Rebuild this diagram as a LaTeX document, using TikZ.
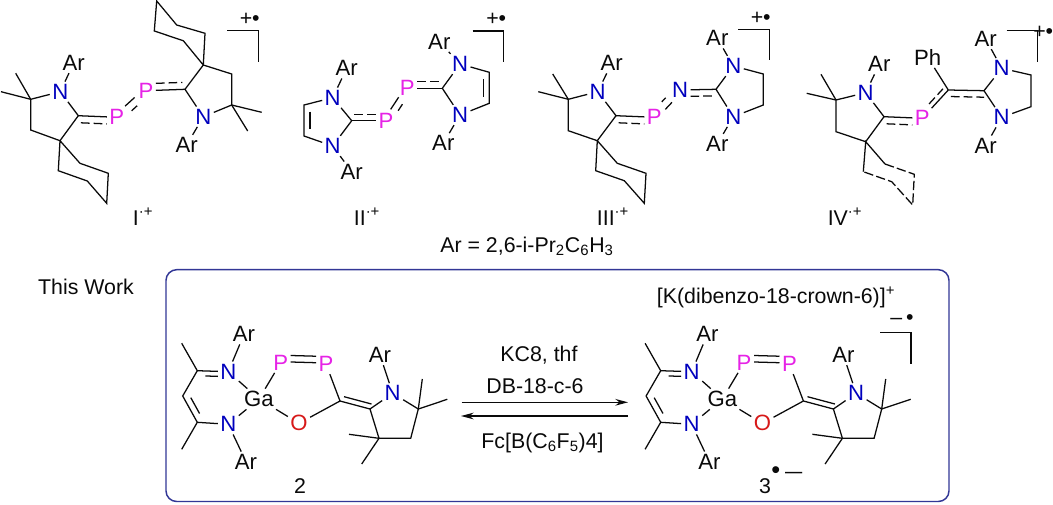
\documentclass[tikz,border=0pt]{standalone}
\usepackage{fontspec}
\usepackage{graphicx}
\setmainfont{Liberation Sans}
\definecolor{ncol}{RGB}{0,0,190}
\definecolor{pcol}{RGB}{230,35,230}
\definecolor{ocol}{RGB}{215,25,25}
\definecolor{boxcol}{RGB}{50,55,150}
\definecolor{txt}{RGB}{10,10,10}
\tikzset{
  base font/.style={font=\fontsize{16}{18}\selectfont,text=txt},
  atom/.style={font=\fontsize{16.6}{18}\selectfont,inner sep=1.9pt,outer sep=0pt},
  lbl/.style={base font,inner sep=0pt,anchor=base},
  chg/.style={base font,inner sep=0pt,anchor=base west},
  bond/.style={draw=txt,line width=0.95pt,line join=miter},
  dbond/.style={bond,dash pattern=on 6.5pt off 3pt},
  dring/.style={bond,dash pattern=on 7pt off 2.4pt},
  arrowline/.style={draw=txt,line width=0.95pt,-{Stealth[length=9.5pt,width=5pt]}},
}
\usetikzlibrary{arrows.meta}
\newcommand\At[4]{\node[atom,text=#4] (#1) at (#2) {#3};}
\newcommand\Cc[2]{\coordinate (#1) at (#2);}
\newcommand\Bd[1]{\draw[bond] #1;}
% second, parallel line of a multiple bond: {style}{dx,dy}{shorten start}{shorten end}{path}
\newcommand\Par[5]{\draw[#1,shorten <=#3,shorten >=#4,transform canvas={shift={(#2)}}] #5;}
\newcommand\GaComp[1]{%
  \Cc{#1m1}{181.7,343.3}\Cc{#1c1}{197.3,370.7}\Cc{#1ch}{182.7,396}\Cc{#1c2}{197.3,422.3}\Cc{#1m2}{181.7,449.3}
  \At{#1n1}{228.3,371.7}{N}{ncol}\At{#1n2}{228.3,424.3}{N}{ncol}
  \At{#1a1}{244,334.3}{Ar}{txt}\At{#1a2}{246,461.7}{Ar}{txt}
  \At{#1ga}{259,399}{Ga}{txt}\At{#1o}{299,423.3}{O}{ocol}
  \At{#1p1}{280.7,362.7}{P}{pcol}\At{#1p2}{326,364}{P}{pcol}
  \Cc{#1c3}{340,401}\Cc{#1c4}{370,409}\At{#1n3}{392.7,393.3}{N}{ncol}\At{#1a3}{380,355}{Ar}{txt}
  \Cc{#1c5}{418.3,409}\Cc{#1m3}{422.3,379}\Cc{#1m4}{447.3,399.3}\Cc{#1c6}{410.7,438.3}\Cc{#1c7}{379,438.3}
  \Cc{#1m5}{349,434.3}\Cc{#1m6}{361.7,464}
  \Bd{(#1m1)--(#1c1)--(#1n1)}
  \Par{bond}{0,5}{6pt}{0pt}{(#1c1)--(#1n1)}
  \Bd{(#1c1)--(#1ch)--(#1c2)--(#1n2)}
  \Par{bond}{5.5,-3}{4pt}{5pt}{(#1ch)--(#1c2)}
  \Bd{(#1c2)--(#1m2)}
  \Bd{(#1n1)--(#1a1)}\Bd{(#1n2)--(#1a2)}\Bd{(#1n1)--(#1ga)}\Bd{(#1n2)--(#1ga)}
  \Bd{(#1ga)--(#1p1)}\Bd{(#1ga)--(#1o)}\Bd{(#1o)--(#1c3)}\Bd{(#1p2)--(#1c3)}
  \Par{bond}{0,-7.5}{0pt}{0pt}{(#1p1)--(#1p2)}
  \Par{bond}{0,-1}{0pt}{0pt}{(#1p1)--(#1p2)}
  \Bd{(#1c3)--(#1c4)--(#1n3)--(#1c5)--(#1c6)--(#1c7)--(#1c4)}
  \Par{bond}{1.5,-5}{2pt}{0pt}{(#1c3)--(#1c4)}
  \Bd{(#1n3)--(#1a3)}\Bd{(#1c5)--(#1m3)}\Bd{(#1c5)--(#1m4)}\Bd{(#1c7)--(#1m5)}\Bd{(#1c7)--(#1m6)}
}
\begin{document}
\begin{tikzpicture}[x=0.75pt,y=-0.75pt]
\useasboundingbox (0,0) rectangle (1053,504);
\fill[white] (0,0) rectangle (1053,504);

%%% I
\At{an}{60.3,91.7}{N}{ncol}\At{aar}{73.7,63}{Ar}{txt}
\Cc{agem}{30.7,99.3}\Cc{am1}{15.7,73.3}\Cc{am2}{1,91.7}\Cc{ach}{30.7,130}\Cc{asp}{60,140.7}\Cc{ac}{78.3,115.7}
\At{ap1}{116.7,117.3}{P}{pcol}\At{ap2}{146,90.7}{P}{pcol}
\Cc{ac2}{185,89.3}\Cc{asp2}{203.3,65}\Cc{ach2}{231.7,74}\Cc{agem2}{231.7,105}
\At{an2}{203.3,116.7}{N}{ncol}\At{aar2}{186.7,145}{Ar}{txt}
\Cc{am3}{261.7,112.3}\Cc{am4}{247.7,131}
\Cc{ar1}{80,163.3}\Cc{ar2}{108.3,173.3}\Cc{ar3}{106.7,203.3}\Cc{ar4}{87.3,181}\Cc{ar5}{58.3,170.7}
\Cc{at1}{205,33.3}\Cc{at2}{176.7,25}\Cc{at3}{156.7,1}\Cc{at4}{154.3,31}\Cc{at5}{183.3,40.7}
\Bd{(am1)--(agem)--(an)--(ac)--(asp)--(ach)--(agem)}\Bd{(am2)--(agem)}\Bd{(an)--(aar)}
\Bd{(asp)--(ar1)--(ar2)--(ar3)--(ar4)--(ar5)--(asp)}
\Bd{(ac)--(ap1)}\Par{dbond}{0,7}{2pt}{0pt}{(ac)--(ap1)}
\Par{bond}{-1.5,-2.2}{0pt}{0pt}{(ap1)--(ap2)}\Par{dbond}{3,4.3}{2pt}{2pt}{(ap1)--(ap2)}
\Bd{(ap2)--(ac2)}\Par{dbond}{0,-7}{0pt}{2pt}{(ap2)--(ac2)}
\Bd{(ac2)--(asp2)--(ach2)--(agem2)--(an2)--(ac2)}\Bd{(an2)--(aar2)}\Bd{(agem2)--(am3)}\Bd{(agem2)--(am4)}
\Bd{(asp2)--(at1)--(at2)--(at3)--(at4)--(at5)--(asp2)}
\draw[bond] (227.3,30.7)--(258.7,30.7)--(258.7,61.7);
\node[chg] (achg) at (239.5,25.8) {+•};
\node[lbl] (alab) at (143,225) {I\textsuperscript{·+}};

%%% II
\At{bn1}{332.7,97.7}{N}{ncol}\At{bar1}{346.7,68.3}{Ar}{txt}\Cc{bc}{351.7,120.7}
\At{bn2}{332.7,146}{N}{ncol}\At{bar2}{351.7,171.7}{Ar}{txt}\Cc{bc4}{304,136}\Cc{bc5}{304,105}
\At{bp1}{386,120.7}{P}{pcol}\At{bp2}{407.3,88.3}{P}{pcol}\Cc{bc2}{442.3,88.3}
\At{bn3}{460,64}{N}{ncol}\At{bar3}{439.3,41.7}{Ar}{txt}\At{bn4}{460,115}{N}{ncol}\At{bar4}{443.3,143.3}{Ar}{txt}
\Cc{bc6}{489.3,72.3}\Cc{bc7}{489.3,103.3}
\Bd{(bc)--(bn1)--(bc5)--(bc4)--(bn2)--(bc)}\Par{bond}{6,0}{5pt}{5pt}{(bc5)--(bc4)}
\Bd{(bn1)--(bar1)}\Bd{(bn2)--(bar2)}
\Bd{(bc)--(bp1)}\Par{dbond}{0,-6.5}{2pt}{0pt}{(bc)--(bp1)}
\Par{bond}{-2,-1.2}{0pt}{0pt}{(bp1)--(bp2)}\Par{dbond}{4,2.4}{2pt}{3pt}{(bp1)--(bp2)}
\Bd{(bp2)--(bc2)}\Par{dbond}{0,-6.5}{0pt}{2pt}{(bp2)--(bc2)}
\Bd{(bc2)--(bn3)--(bc6)--(bc7)--(bn4)--(bc2)}\Par{bond}{-6,0}{5pt}{5pt}{(bc6)--(bc7)}
\Bd{(bn3)--(bar3)}\Bd{(bn4)--(bar4)}
\draw[bond] (472.7,31)--(503.3,31)--(503.3,61.7);
\node[chg] (bchg) at (486,25.8) {+•};
\node[lbl] (blab) at (367,225) {II\textsuperscript{·+}};

%%% III
\At{cn}{597.7,91.7}{N}{ncol}\At{car}{611.7,63.3}{Ar}{txt}
\Cc{cgem}{568.3,99.3}\Cc{cm1}{552.7,74}\Cc{cm2}{538.3,91.7}\Cc{cch}{568.3,130.7}\Cc{csp}{597.3,140.7}\Cc{cc}{616,115.7}
\At{cp}{654.3,117.3}{P}{pcol}\At{cn1}{680,90}{N}{ncol}\Cc{cc2}{716,89.3}
\At{cn2}{733.3,66}{N}{ncol}\At{car2}{717.3,38.3}{Ar}{txt}\At{cn3}{733.3,116.7}{N}{ncol}\At{car3}{717.3,144}{Ar}{txt}
\Cc{cc3}{763.3,74}\Cc{cc4}{763.3,105}
\Cc{cr1}{617.3,163.3}\Cc{cr2}{646,173.3}\Cc{cr3}{644.3,203.3}\Cc{cr4}{624.3,180.7}\Cc{cr5}{595.7,170.7}
\Bd{(cm1)--(cgem)--(cn)--(cc)--(csp)--(cch)--(cgem)}\Bd{(cm2)--(cgem)}\Bd{(cn)--(car)}
\Bd{(csp)--(cr1)--(cr2)--(cr3)--(cr4)--(cr5)--(csp)}
\Bd{(cc)--(cp)}\Par{dbond}{0,7}{2pt}{0pt}{(cc)--(cp)}
\Par{bond}{1.5,2.2}{0pt}{0pt}{(cp)--(cn1)}\Par{dbond}{-3,-4.3}{1pt}{2pt}{(cp)--(cn1)}
\Bd{(cn1)--(cc2)}\Par{dbond}{0,6.5}{0pt}{2pt}{(cn1)--(cc2)}
\Bd{(cc2)--(cn2)--(cc3)--(cc4)--(cn3)--(cc2)}\Bd{(cn2)--(car2)}\Bd{(cn3)--(car3)}
\draw[bond] (738.3,29.3)--(769.3,29.3)--(769.3,60);
\node[chg] (cchg) at (750.5,24) {+•};
\node[lbl] (clab) at (613,225) {III\textsuperscript{·+}};

%%% IV
\At{dn}{865.7,92.7}{N}{ncol}\At{dar}{879.3,64.3}{Ar}{txt}
\Cc{dgem}{836,100}\Cc{dm1}{821,74.3}\Cc{dm2}{806.7,93.3}\Cc{dch}{836,131.7}\Cc{dsp}{865.7,141.7}\Cc{dc}{884,116.7}
\At{dp}{922.3,118.3}{P}{pcol}\Cc{dc1}{948.3,90}\At{dph}{927.7,57.3}{Ph}{txt}\Cc{dc2}{984,90.7}
\At{dn2}{1001.7,68.3}{N}{ncol}\At{dar2}{985.7,39}{Ar}{txt}\At{dn3}{1001.7,117.3}{N}{ncol}\At{dar3}{985.7,145.7}{Ar}{txt}
\Cc{dc3}{1031,75}\Cc{dc4}{1031,106.7}
\Cc{dr1}{885,164}\Cc{dr2}{914.3,174.3}\Cc{dr3}{912.7,205}\Cc{dr4}{891.7,181.7}\Cc{dr5}{863.3,171.7}
\Bd{(dm1)--(dgem)--(dn)--(dc)--(dsp)--(dch)--(dgem)}\Bd{(dm2)--(dgem)}\Bd{(dn)--(dar)}
\Bd{(dr1)--(dsp)--(dr5)}
\draw[dring] (dr1)--(dr2)--(dr3)--(dr4)--(dr5);
\Bd{(dc)--(dp)}\Par{dbond}{0,7}{2pt}{0pt}{(dc)--(dp)}
\Bd{(dp)--(dc1)}\Par{dbond}{-3.5,-3.2}{1pt}{2pt}{(dp)--(dc1)}
\Bd{(dc1)--(dph)}
\Bd{(dc1)--(dc2)}\Par{dbond}{0,6.5}{2pt}{0pt}{(dc1)--(dc2)}
\Bd{(dc2)--(dn2)--(dc3)--(dc4)--(dn3)--(dc2)}\Bd{(dn2)--(dar2)}\Bd{(dn3)--(dar3)}
\draw[bond] (1006.7,30.7)--(1037.7,30.7)--(1037.7,61.7);
\node[chg] (dchg) at (1033,38) {+•};
\node[lbl] (dlab) at (845,225) {IV\textsuperscript{·+}};

%%% captions
\node[lbl] (arlab) at (527,252) {Ar = 2,6-i-Pr\textsubscript{2}C\textsubscript{6}H\textsubscript{3}};
\node[lbl] (work) at (86,294) {This Work};
\draw[boxcol,line width=1.1pt,rounded corners=8pt] (166,269.7) rectangle (949,501.5);

%%% 2 and 3
\GaComp{e}
\begin{scope}[shift={(463.4,0)}]
\GaComp{f}
\end{scope}
\node[lbl] (elab) at (300,493) {2};
\node[lbl] (flab) at (765,493) {3};
\node[lbl,font=\fontsize{19}{20}\selectfont] (fdot) at (775.7,478) {•};
\node[lbl] (fdash) at (793.7,478) {\scalebox{1.45}[1]{–}};
\node[chg] (fcat) at (656.7,303.5) {[K(dibenzo-18-crown-6)]\textsuperscript{+}};
\node[chg] (fchg) at (890,324) {–\kern3pt•};
\draw[bond] (880,332.7)--(911,332.7)--(911,364);

%%% reaction arrows
\coordinate (ra1) at (461.7,402.3);\coordinate (ra2) at (628,402.3);
\coordinate (rb1) at (628,416);\coordinate (rb2) at (461,416);
\draw[arrowline] (ra1)--(ra2);
\draw[arrowline] (rb1)--(rb2);
\node[lbl] (kc) at (539,361.7) {KC8, thf};
\node[lbl] (db) at (535,393) {DB-18-c-6};
\node[lbl] (fc) at (542.5,448) {Fc[B(C\textsubscript{6}F\textsubscript{5})4]};
\end{tikzpicture}
\end{document}
